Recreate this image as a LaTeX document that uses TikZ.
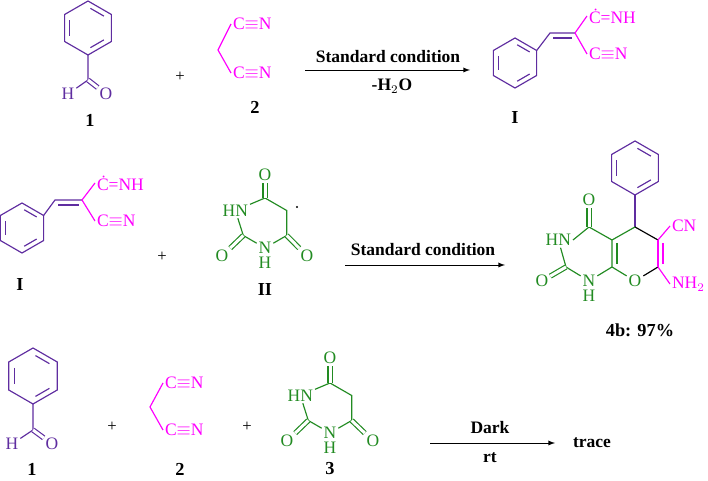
\documentclass[tikz,border=0pt]{standalone}
\usepackage{fontspec}
\setmainfont{Liberation Serif}
\usetikzlibrary{calc}
\definecolor{ald}{RGB}{95,45,160}
\definecolor{nit}{RGB}{255,0,255}
\definecolor{bar}{RGB}{34,139,34}
\tikzset{
	arrow/.style={thin, -latex},
	bond/.style={line width=0.7pt},
	dbond/.style={line width=0.7pt, double, double distance=1.8pt},
	atom/.style={inner sep=1pt, font=\fontsize{10.5}{12}\selectfont},
	cpd/.style={font=\bfseries\fontsize{11}{13}\selectfont},
	cond/.style={font=\bfseries\fontsize{10.5}{12}\selectfont},
}
% benzene ring: x, y, radius, colour
\newcommand\benzring[4]{%
	\begin{scope}[shift={(#1,#2)}, draw=#4, line width=0.7pt]
		\draw (90:#3) -- (30:#3) -- (-30:#3) -- (-90:#3) -- (-150:#3) -- (150:#3) -- cycle;
		\foreach \a in {90,-30,-150}
			\draw ($(\a:0.78*#3)!0.13!(\a-60:0.78*#3)$) -- ($(\a-60:0.78*#3)!0.13!(\a:0.78*#3)$);
	\end{scope}}
\begin{document}
\begin{tikzpicture}[x=0.6pt, y=-0.6pt]
	\useasboundingbox (0,0) rectangle (708,481);

	% row 1
	\benzring{88}{28}{27}{ald}
	\coordinate (b1) at (88,55);
	\coordinate (c1) at (88,80);
	\node[atom, ald] (h1) at (68,94) {H};
	\node[atom, ald] (o1) at (106,94) {O};
	\draw[bond, ald] (b1) -- (c1) -- (h1);
	\draw[dbond, ald] (c1) -- (o1);
	\node[cpd] (n1) at (90,120) {1};
	\node (p1) at (180,77) {+};
	\coordinate (m1) at (218,50);
	\node[atom, nit, anchor=west] (ca1) at (231,24) {C$\equiv$N};
	\node[atom, nit, anchor=west] (cb1) at (231,73) {C$\equiv$N};
	\draw[bond, nit] (ca1.west) -- (m1) -- (cb1.west);
	\node[cpd] (n2) at (255,107) {2};
	\coordinate (a1s) at (305,70);
	\coordinate (a1e) at (470,70);
	\draw[arrow] (a1s) -- (a1e);
	\node[cond] (t1) at (388,57) {Standard condition};
	\node[cond] (t2) at (392,86) {-H$_2$O};
	\benzring{515}{63}{25}{ald}
	\coordinate (r1) at (536.7,50.5);
	\coordinate (v1) at (550,33);
	\coordinate (v2) at (575,33);
	\draw[bond, ald] (r1) -- (v1) -- (v2);
	\draw[bond, ald] (553,38) -- (572,38);
	\node[atom, nit, anchor=west] (im1) at (587,16) {\.C=NH};
	\node[atom, nit, anchor=west] (cn1) at (587,54) {C$\equiv$N};
	\draw[bond, nit] (im1.west) -- (v2) -- (cn1.west);
	\node[cpd] (nI) at (515,118) {I};

	% row 2
	\benzring{22}{228}{25}{ald}
	\coordinate (r2) at (43.6,215.5);
	\coordinate (v3) at (55,200);
	\coordinate (v4) at (82,200);
	\draw[bond, ald] (r2) -- (v3) -- (v4);
	\draw[bond, ald] (58,205) -- (79,205);
	\node[atom, nit, anchor=west] (im2) at (95,183) {\.C=NH};
	\node[atom, nit, anchor=west] (cn2) at (95,221) {C$\equiv$N};
	\draw[bond, nit] (im2.west) -- (v4) -- (cn2.west);
	\node[cpd] (nI2) at (20,285) {I};
	\node (p2) at (162,257) {+};
	% radical II
	\coordinate (q1) at (265,198);
	\coordinate (q2) at (286.7,210.5);
	\coordinate (q3) at (286.7,235.5);
	\node[atom, bar] (qn1) at (265,248) {N};
	\coordinate (q5) at (243.3,235.5);
	\node[atom, bar, anchor=east] (qn3) at (250,210.5) {HN};
	\node[atom, bar] (qh) at (265,263) {H};
	\node[atom, bar] (qo1) at (265,175) {O};
	\node[atom, bar] (qo2) at (222,256) {O};
	\node[atom, bar] (qo3) at (307,256) {O};
	\draw[bond, bar] (qn3) -- (q1) -- (q2) -- (q3) -- (qn1) -- (q5) -- (qn3);
	\draw[dbond, bar] (q1) -- (qo1);
	\draw[dbond, bar] (q5) -- (qo2);
	\draw[dbond, bar] (q3) -- (qo3);
	\fill (297,207) circle (1.2);
	\node[cpd] (nII) at (265,290) {II};
	\coordinate (a2s) at (345,265);
	\coordinate (a2e) at (505,265);
	\draw[arrow] (a2s) -- (a2e);
	\node[cond] (t3) at (423,250) {Standard condition};
	% product 4b
	\benzring{635}{168}{27}{ald}
	\coordinate (g1) at (635,195);
	\coordinate (k1) at (635,227);
	\coordinate (k2) at (658,240);
	\coordinate (k3) at (658,267);
	\node[atom, bar] (ko) at (635,281) {O};
	\coordinate (k5) at (612,267);
	\coordinate (k6) at (612,240);
	\coordinate (k7) at (589,227);
	\node[atom, bar, anchor=east] (kn3) at (573,240) {HN};
	\coordinate (k9) at (566,267);
	\node[atom, bar] (kn1) at (589,281) {N};
	\node[atom, bar] (kh) at (589,296) {H};
	\node[atom, bar] (ko1) at (589,200) {O};
	\node[atom, bar] (ko2) at (542,281) {O};
	\node[atom, nit, anchor=west] (kcn) at (670,226) {CN};
	\node[atom, nit, anchor=west] (knh) at (670,284) {NH$_2$};
	\draw[bond, ald] (g1) -- (k1);
	\draw[bond] (k1) -- (k2);
	\draw[bond] (k3) -- (ko);
	\draw[bond, nit] (k2) -- (k3);
	\draw[bond, nit] (663,243) -- (663,264);
	\draw[bond, nit] (k2) -- (kcn.west);
	\draw[bond, nit] (k3) -- (knh.west);
	\draw[bond, bar] (ko) -- (k5) -- (k6) -- (k1);
	\draw[bond, bar] (617,243) -- (617,264);
	\draw[bond, bar] (k6) -- (k7) -- (kn3.east) ;
	\draw[bond, bar] (kn3) -- (k9) -- (kn1) -- (k5);
	\draw[dbond, bar] (k7) -- (ko1);
	\draw[dbond, bar] (k9) -- (ko2);
	\node[cpd] (n4) at (640,330) {4b: 97\%};

	% row 3
	\benzring{33}{376}{28}{ald}
	\coordinate (b3) at (33,404);
	\coordinate (c3) at (33,430);
	\node[atom, ald] (h3) at (12,444) {H};
	\node[atom, ald] (o3) at (52,444) {O};
	\draw[bond, ald] (b3) -- (c3) -- (h3);
	\draw[dbond, ald] (c3) -- (o3);
	\node[cpd] (n1b) at (32,469) {1};
	\node (p3) at (112,427) {+};
	\coordinate (m3) at (150,407);
	\node[atom, nit, anchor=west] (ca3) at (163,383) {C$\equiv$N};
	\node[atom, nit, anchor=west] (cb3) at (163,430) {C$\equiv$N};
	\draw[bond, nit] (ca3.west) -- (m3) -- (cb3.west);
	\node[cpd] (n2b) at (180,469) {2};
	\node (p4) at (247,427) {+};
	% barbituric acid 3
	\coordinate (s1) at (330,383);
	\coordinate (s2) at (351.7,395.5);
	\coordinate (s3) at (351.7,420.5);
	\node[atom, bar] (sn1) at (330,433) {N};
	\coordinate (s5) at (308.3,420.5);
	\node[atom, bar, anchor=east] (sn3) at (315,395.5) {HN};
	\node[atom, bar] (sh) at (330,448) {H};
	\node[atom, bar] (so1) at (330,358) {O};
	\node[atom, bar] (so2) at (287,441) {O};
	\node[atom, bar] (so3) at (373,441) {O};
	\draw[bond, bar] (sn3) -- (s1) -- (s2) -- (s3) -- (sn1) -- (s5) -- (sn3);
	\draw[dbond, bar] (s1) -- (so1);
	\draw[dbond, bar] (s5) -- (so2);
	\draw[dbond, bar] (s3) -- (so3);
	\node[cpd] (n3) at (330,469) {3};
	\coordinate (a3s) at (430,443);
	\coordinate (a3e) at (555,443);
	\draw[arrow] (a3s) -- (a3e);
	\node[cond] (t4) at (490,428) {Dark};
	\node[cond] (t5) at (490,458) {rt};
	\node[cond] (tr) at (592,443) {trace};
\end{tikzpicture}
\end{document}
